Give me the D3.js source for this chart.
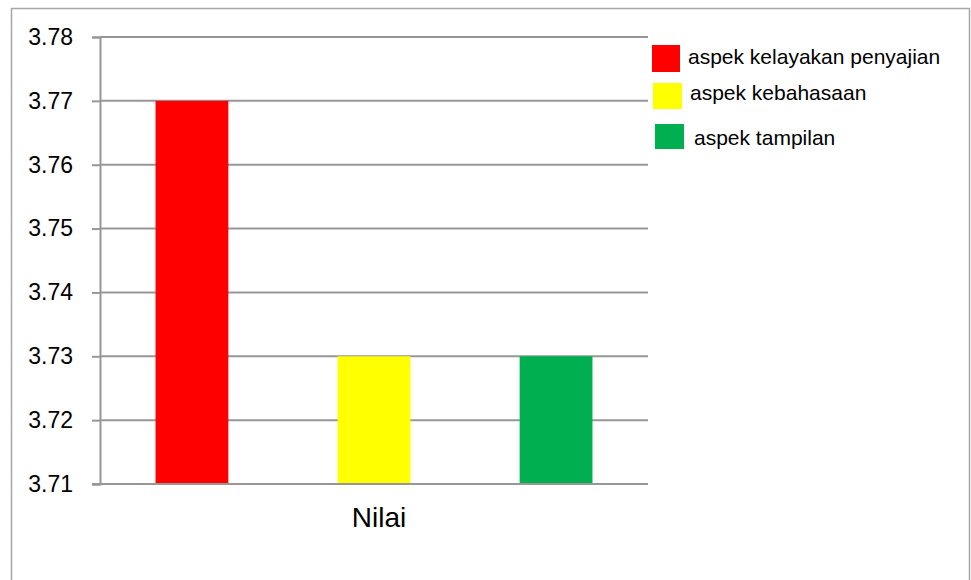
<!DOCTYPE html>
<html>
<head>
<meta charset="utf-8">
<script src="https://cdn.jsdelivr.net/npm/d3@7"></script>
<style>
  html, body { margin: 0; padding: 0; background: #fff; }
  svg { display: block; font-family: "Liberation Sans", Arial, sans-serif; }
</style>
</head>
<body>
<svg id="chart" width="971" height="580"></svg>
<script>
// ---- data ----
const category = "Nilai";
const seriesNames = ["aspek kelayakan penyajian", "aspek kebahasaan", "aspek tampilan"];
const seriesValues = [3.77, 3.73, 3.73];
const seriesColors = ["#ff0000", "#ffff00", "#00b050"];
const yTicks = [3.71, 3.72, 3.73, 3.74, 3.75, 3.76, 3.77, 3.78];

// ---- layout ----
const svg = d3.select("#chart");
const plot = { left: 100, right: 648, top: 37, bottom: 484 };

// outer border
svg.append("rect")
  .attr("x", 11.5).attr("y", 8.5)
  .attr("width", 958).attr("height", 600)
  .attr("fill", "none").attr("stroke", "#a6a6a6").attr("stroke-width", 1.5);

const y = d3.scaleLinear().domain([3.71, 3.78]).range([plot.bottom, plot.top]);
const x = d3.scaleBand().domain(seriesNames).range([plot.left, plot.right])
  .paddingInner(0.6).paddingOuter(0.305);

// gridlines
svg.append("g").selectAll("line").data(yTicks).join("line")
  .attr("x1", plot.left).attr("x2", plot.right)
  .attr("y1", d => y(d)).attr("y2", d => y(d))
  .attr("stroke", "#979797").attr("stroke-width", 2);

// bars
svg.append("g").selectAll("rect").data(seriesValues).join("rect")
  .attr("x", (d, i) => x(seriesNames[i]))
  .attr("width", x.bandwidth())
  .attr("y", d => y(d))
  .attr("height", d => y(3.71) - y(d))
  .attr("fill", (d, i) => seriesColors[i]);

// y axis
const yAxis = d3.axisLeft(y).tickValues(yTicks).tickSize(8).tickPadding(19)
  .tickFormat(d3.format(".2f"));
const ga = svg.append("g").attr("transform", `translate(${plot.left},0)`).call(yAxis);
ga.select(".domain").attr("stroke", "#979797").attr("stroke-width", 2);
ga.selectAll(".tick line").attr("stroke", "#979797").attr("stroke-width", 2);
ga.selectAll(".tick text").attr("font-size", 23).attr("fill", "#000")
  .attr("font-family", "'Liberation Sans', Arial, sans-serif");

// x axis line
svg.append("line")
  .attr("x1", plot.left - 8).attr("x2", plot.right)
  .attr("y1", y(3.71)).attr("y2", y(3.71))
  .attr("stroke", "#979797").attr("stroke-width", 2);

// category label
svg.append("text")
  .attr("x", (plot.left + plot.right) / 2 + 5)
  .attr("y", 527)
  .attr("text-anchor", "middle")
  .attr("font-size", 28)
  .attr("fill", "#000")
  .text(category);

// legend
const legendBoxX = [652, 653, 655];
const legendBoxY = [45, 83, 124];
const legendBoxW = [28, 29, 29];
const legendBoxH = [27, 26, 25];
const legendTextX = [688, 690, 694];
const legendTextY = [64, 100, 145];
const lg = svg.append("g");
seriesNames.forEach((name, i) => {
  lg.append("rect")
    .attr("x", legendBoxX[i]).attr("y", legendBoxY[i])
    .attr("width", legendBoxW[i]).attr("height", legendBoxH[i])
    .attr("fill", seriesColors[i]);
  lg.append("text")
    .attr("x", legendTextX[i]).attr("y", legendTextY[i])
    .attr("font-size", 21).attr("fill", "#000")
    .text(name);
});
</script>
</body>
</html>
